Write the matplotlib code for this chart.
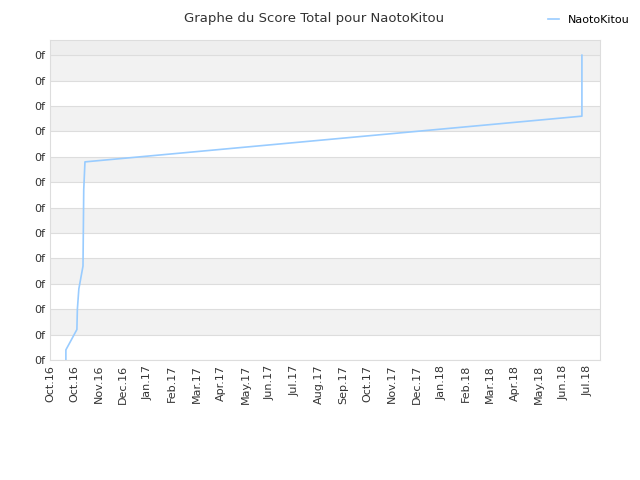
import matplotlib
matplotlib.use("Agg")
import matplotlib.pyplot as plt

tick_labels = ["Oct.16","Oct.16","Nov.16","Dec.16","Jan.17","Feb.17","Mar.17","Apr.17","May.17","Jun.17","Jul.17","Aug.17","Sep.17","Oct.17","Nov.17","Dec.17","Jan.18","Feb.18","Mar.18","Apr.18","May.18","Jun.18","Jul.18"]
xs = [0.65, 0.65, 0.82, 1.1, 1.12, 1.18, 1.35, 1.38, 1.43, 21.76, 21.76]
ys = [0.0, 0.4, 0.7, 1.2, 2.0, 2.8, 3.7, 6.7, 7.8, 9.6, 12.0]
ytick_labels = ["0f"] * 13

fig = plt.figure(figsize=(6.4, 4.8), dpi=100)
ax = fig.add_axes([50/640, 120/480, 550/640, 320/480])
ymax = (360-40)/25.4
for i in range(13):
    lo, hi = i, min(i+1, ymax)
    if i % 2 == 1:
        ax.axhspan(lo, hi, color="#f2f2f2", zorder=0, lw=0)
    if i == 12:
        ax.axhspan(lo, hi, color="#eeeeee", zorder=0, lw=0)
    ax.axhline(i, color="#dddddd", lw=0.8, zorder=1)
ax.plot(xs, ys, color="#99ccff", lw=1.2, label="NaotoKitou", zorder=3)
ax.set_xlim(0, 22.5)
ax.set_ylim(0, ymax)
ax.set_xticks(range(len(tick_labels)))
ax.set_xticklabels(tick_labels, rotation=90, fontsize=8, color="#333333")
ax.set_yticks(range(13))
ax.set_yticklabels(ytick_labels, fontsize=8, color="#333333")
ax.tick_params(length=0)
for s in ax.spines.values():
    s.set_color("#dddddd")
fig.text(0.49, 0.975, "Graphe du Score Total pour NaotoKitou", ha="center", va="top", fontsize=9.5, color="#333333")
fig.legend(loc="upper right", bbox_to_anchor=(1.0, 0.99), frameon=False, fontsize=8, handlelength=1)
fig.savefig("out.png")
